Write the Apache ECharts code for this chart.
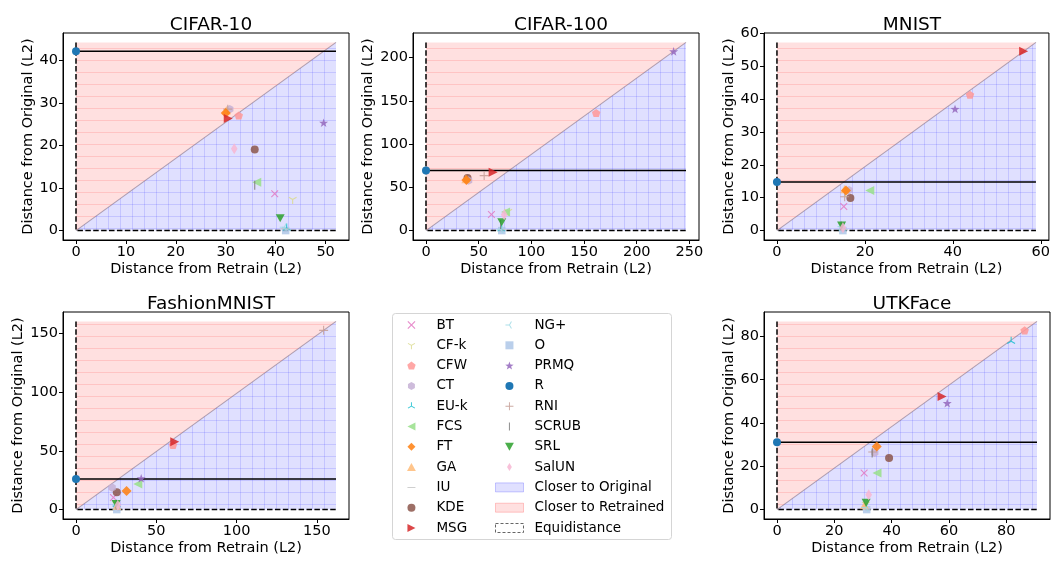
<!DOCTYPE html>
<html><head><meta charset="utf-8">
<script src="https://cdn.jsdelivr.net/npm/echarts@6/dist/echarts.min.js"></script>
<style>html,body{margin:0;padding:0;background:#fff}#c{width:1053px;height:563px}</style>
</head><body><div id="c"></div>
<script>
// ---------------- DATA ----------------
const methods = ['BT','CF-k','CFW','CT','EU-k','FCS','FT','GA','IU','KDE','MSG','NG+','O','PRMQ','R','RNI','SCRUB','SRL','SalUN'];
const datasets = ['CIFAR-10','CIFAR-100','MNIST','FashionMNIST','UTKFace'];

//                  BT    CF-k  CFW   CT    EU-k  FCS   FT    GA    IU    KDE   MSG   NG+   O     PRMQ  R    RNI   SCRUB SRL   SalUN
const cifar10X  = [39.8, 43.4, 32.6, 30.8, 42.2, 36.2, 30.0, 30.1, 41.9, 35.8, 30.5, 41.7, 42.0, 49.6, 0,   30.4, 35.8, 40.9, 31.7];
const cifar10Y  = [8.7,  7.3,  27.1, 28.6, 0.6,  11.4, 27.7, 28.3, 0.4,  19.1, 26.4, 0.8,  0.0,  25.4, 42.2,28.6, 10.7, 2.9,  19.3];

const cifar100X = [62.1, 78.0, 161.5,40.4, 71.5, 75.5, 38.3, 37.8, 72.0, 39.4, 63.7, 71.0, 71.9, 235.0,0,   55.2, 70.8, 71.9, 74.2];
const cifar100Y = [18.5, 22.0, 136.0,57.8, 2.0,  21.5, 58.6, 59.5, 1.0,  60.9, 67.4, 1.5,  0.0,  207.3,69.6,63.6, 7.0,  9.6,  18.3];

const mnistX    = [15.2, 15.6, 43.9, 16.4, 14.9, 21.1, 15.7, 15.4, 15.1, 16.7, 56.1, 14.8, 15.0, 40.5, 0,   15.4, 14.6, 14.7, 15.0];
const mnistY    = [7.3,  11.5, 41.3, 12.3, 0.8,  12.2, 12.2, 12.6, 0.3,  9.9,  54.5, 1.2,  0.0,  37.0, 14.8,10.3, 1.4,  1.5,  0.9];

const fashionX  = [23.3, 25.0, 60.4, 22.5, 25.3, 38.5, 31.5, 25.5, 25.4, 25.4, 61.5, 25.2, 25.4, 40.6, 0,   154.2,25.0, 25.0, 26.0];
const fashionY  = [10.2, 5.0,  54.9, 18.7, 4.5,  21.8, 15.9, 3.0,  0.5,  14.7, 57.7, 4.0,  0.0,  26.6, 26.0,152.3,4.0,  4.8,  3.7];

const utkX      = [30.4, 31.0, 86.4, 34.1, 81.7, 34.9, 34.8, 30.5, 31.3, 39.1, 57.6, 31.0, 31.3, 59.4, 0,   33.4, 33.2, 31.1, 32.0];
const utkY      = [16.9, 2.5,  82.8, 26.3, 77.8, 16.9, 29.2, 2.0,  0.3,  23.8, 52.3, 1.0,  0.0,  49.2, 31.1,26.6, 26.2, 3.1,  6.9];

const cifar10XTicks  = [0,10,20,30,40,50];
const cifar10YTicks  = [0,10,20,30,40];
const cifar100XTicks = [0,50,100,150,200,250];
const cifar100YTicks = [0,50,100,150,200];
const mnistXTicks    = [0,20,40,60];
const mnistYTicks    = [0,10,20,30,40,50,60];
const fashionXTicks  = [0,50,100,150];
const fashionYTicks  = [0,50,100,150];
const utkXTicks      = [0,20,40,60,80];
const utkYTicks      = [0,20,40,60,80];

const patchNames = ['Closer to Original','Closer to Retrained','Equidistance'];
const xAxisTitle = 'Distance from Retrain (L2)';
const yAxisTitle = 'Distance from Original (L2)';

// ---------------- LAYOUT / STYLE ----------------
const FONT = 'DejaVu Sans';
const panelData = [
  {x: cifar10X,  y: cifar10Y,  xt: cifar10XTicks,  yt: cifar10YTicks},
  {x: cifar100X, y: cifar100Y, xt: cifar100XTicks, yt: cifar100YTicks},
  {x: mnistX,    y: mnistY,    xt: mnistXTicks,    yt: mnistYTicks},
  {x: fashionX,  y: fashionY,  xt: fashionXTicks,  yt: fashionYTicks},
  {x: utkX,      y: utkY,      xt: utkXTicks,      yt: utkYTicks}
];
const gridLayout = [
  {left: 63,  top: 33,  yGap: 27},
  {left: 413, top: 33,  yGap: 37},
  {left: 764, top: 33,  yGap: 27},
  {left: 63,  top: 312, yGap: 37},
  {left: 764, top: 312, yGap: 27}
];
const GW = 286, GH = 207;

// tiny corner specks keep a square bounding box for thin symbols
const SQ = 'M0,0 L0.01,0 L0,0.01 Z M10,10 L9.99,10 L10,9.99 Z ';
function spokes(pts){
  const w = 0.6; let d = SQ;
  pts.forEach(p => {
    const dx = p[0]-5, dy = p[1]-5, L = Math.hypot(dx,dy);
    const nx = -dy/L*w, ny = dx/L*w;
    d += `M${(5+nx).toFixed(2)},${(5+ny).toFixed(2)} L${(p[0]+nx).toFixed(2)},${(p[1]+ny).toFixed(2)} L${(p[0]-nx).toFixed(2)},${(p[1]-ny).toFixed(2)} L${(5-nx).toFixed(2)},${(5-ny).toFixed(2)} Z `;
  });
  return 'path://' + d;
}
const SYM = {
  x: 'path://M1,0 L5,4 L9,0 L10,1 L6,5 L10,9 L9,10 L5,6 L1,10 L0,9 L4,5 L0,1 Z',
  triDown: spokes([[5,10],[0.67,2.5],[9.33,2.5]]),
  triUp: spokes([[5,0],[0.67,7.5],[9.33,7.5]]),
  triLeft: spokes([[0,5],[7.5,0.67],[7.5,9.33]]),
  pent: 'path://M5,0 L9.76,3.45 L7.94,9.05 L2.06,9.05 L0.24,3.45 Z',
  hex: 'path://M5,0 L9.33,2.5 L9.33,7.5 L5,10 L0.67,7.5 L0.67,2.5 Z',
  left: 'path://M0,5 L10,0 L10,10 Z',
  right: 'path://M10,5 L0,0 L0,10 Z',
  up: 'path://M5,0 L10,9 L0,9 Z',
  down: 'path://M0,0 L10,0 L5,9 Z',
  dia: 'path://M5,0 L10,5 L5,10 L0,5 Z',
  thinDia: 'path://' + SQ + 'M5,0 L8,5 L5,10 L2,5 Z',
  square: 'path://M0,0 H10 V10 H0 Z',
  hbar: 'path://' + SQ + 'M0,4.35 H10 V5.65 H0 Z',
  vbar: 'path://' + SQ + 'M4.35,0 H5.65 V10 H4.35 Z',
  plus: 'path://M4.4,0 H5.6 V4.4 H10 V5.6 H5.6 V10 H4.4 V5.6 H0 V4.4 H4.4 Z',
  star: 'path://M5,0 L6.18,3.38 L9.76,3.45 L6.9,5.62 L7.94,9.05 L5,7 L2.06,9.05 L3.1,5.62 L0.24,3.45 L3.82,3.38 Z'
};
const methodStyle = {
  'BT':   {c:'#e377c2', s:SYM.x,       sz:7.5, z:7},
  'CF-k': {c:'#dbdb8d', s:SYM.triDown, sz:9,   z:8},
  'CFW':  {c:'#ff9896', s:SYM.pent,    sz:8.5, z:7},
  'CT':   {c:'#c5b0d5', s:SYM.hex,     sz:8.5, z:8},
  'EU-k': {c:'#17becf', s:SYM.triUp,   sz:9,   z:8},
  'FCS':  {c:'#98df8a', s:SYM.left,    sz:9,   z:8},
  'FT':   {c:'#ff7f0e', s:SYM.dia,     sz:10,  z:9},
  'GA':   {c:'#ffbb78', s:SYM.up,      sz:9,   z:8},
  'IU':   {c:'#c7c7c7', s:SYM.hbar,    sz:9,   z:8},
  'KDE':  {c:'#8c564b', s:'circle',    sz:8,   z:7},
  'MSG':  {c:'#d62728', s:SYM.right,   sz:9,   z:9},
  'NG+':  {c:'#9edae5', s:SYM.triLeft, sz:9,   z:8},
  'O':    {c:'#aec7e8', s:SYM.square,  sz:7.5, z:7},
  'PRMQ': {c:'#9467bd', s:SYM.star,    sz:9,   z:8},
  'R':    {c:'#1f77b4', s:'circle',    sz:8,   z:7},
  'RNI':  {c:'#c49c94', s:SYM.plus,    sz:9,   z:8},
  'SCRUB':{c:'#7f7f7f', s:SYM.vbar,    sz:9,   z:8},
  'SRL':  {c:'#2ca02c', s:SYM.down,    sz:9,   z:8},
  'SalUN':{c:'#f7b6d2', s:SYM.thinDia, sz:11,  z:8}
};

// ---------------- BUILD ----------------
function regionRender(kind){
  return function(params, api){
    const a = api.coord([0,0]);
    const b = api.coord([api.value(0), api.value(1)]);
    const x0=a[0], y0=a[1], x1=b[0], y1=b[1];
    const fillC = kind==='pink' ? 'rgba(255,0,0,0.12)' : 'rgba(0,0,255,0.12)';
    const lineC = kind==='pink' ? 'rgba(255,0,0,0.12)' : 'rgba(0,0,255,0.12)';
    const pts = kind==='pink' ? [[x0,y0],[x0,y1],[x1,y1]] : [[x0,y0],[x1,y0],[x1,y1]];
    const children = [{type:'polygon', shape:{points:pts}, style:{fill:fillC, stroke:null}}];
    const step = 12;
    const diagX = y => x0 + (y0-y)/(y0-y1)*(x1-x0);
    const diagY = x => y0 - (x-x0)/(x1-x0)*(y0-y1);
    const ln = (ax,ay,bx,by) => ({type:'line', shape:{x1:ax,y1:ay,x2:bx,y2:by}, style:{stroke:lineC, lineWidth:1}});
    for (let y = Math.ceil(y1/step)*step + 0.5; y < y0; y += step){
      const xd = diagX(y);
      if (kind==='pink') children.push(ln(x0, y, xd, y)); else children.push(ln(xd, y, x1, y));
    }
    if (kind==='blue'){
      for (let x = Math.ceil(x0/step)*step + 0.5; x < x1; x += step){
        children.push(ln(x, diagY(x), x, y0));
      }
    }
    return {type:'group', children};
  };
}

const grids=[], xAxes=[], yAxes=[], titles=[], series=[];
panelData.forEach((p, i) => {
  const L = gridLayout[i];
  const xEnd = Math.max(...p.x)*1.05, yEnd = Math.max(...p.y)*1.05;
  const rY = p.y[methods.indexOf('R')];
  grids.push({left:L.left, top:L.top, width:GW, height:GH, show:true, borderColor:'#000', borderWidth:1, backgroundColor:'transparent'});
  titles.push({text:datasets[i], left:L.left+GW/2, top:L.top-22, textAlign:'center',
    textStyle:{fontFamily:FONT, fontSize:18.5, fontWeight:'normal', color:'#000'}});
  const axCommon = {type:'value', gridIndex:i, nameLocation:'middle',
    nameTextStyle:{fontFamily:FONT, fontSize:14.5, color:'#000'},
    axisLine:{show:true, onZero:false, lineStyle:{color:'#000', width:1}},
    splitLine:{show:false}};
  xAxes.push(Object.assign({}, axCommon, {min:-0.05*xEnd, max:1.05*xEnd, name:xAxisTitle, nameGap:22,
    axisTick:{show:true, length:4, customValues:p.xt, lineStyle:{color:'#000'}},
    axisLabel:{customValues:p.xt, fontFamily:FONT, fontSize:14.5, color:'#000', margin:5}}));
  yAxes.push(Object.assign({}, axCommon, {min:-0.05*yEnd, max:1.05*yEnd, name:yAxisTitle, nameGap:L.yGap,
    axisTick:{show:true, length:4, customValues:p.yt, lineStyle:{color:'#000'}},
    axisLabel:{customValues:p.yt, fontFamily:FONT, fontSize:14.5, color:'#000', margin:5}}));

  series.push({type:'custom', name:'Closer to Retrained', xAxisIndex:i, yAxisIndex:i, silent:true, z:1,
    renderItem:regionRender('pink'), data:[[xEnd, yEnd]], encode:{x:0, y:1}, itemStyle:{color:'rgba(255,0,0,0.12)'}});
  series.push({type:'custom', name:'Closer to Original', xAxisIndex:i, yAxisIndex:i, silent:true, z:1,
    renderItem:regionRender('blue'), data:[[xEnd, yEnd]], encode:{x:0, y:1}, itemStyle:{color:'rgba(0,0,255,0.12)'}});
  series.push({type:'line', name:'Equidistance', xAxisIndex:i, yAxisIndex:i, silent:true, z:2, symbol:'none',
    data:[[0,0],[xEnd,yEnd]], lineStyle:{color:'rgba(130,110,130,0.6)', width:1.1}, itemStyle:{color:'#888'}});
  series.push({type:'line', name:'_bounds', xAxisIndex:i, yAxisIndex:i, silent:true, z:3, symbol:'none',
    data:[[0,yEnd],[0,0],[xEnd,0]], lineStyle:{color:'#000', width:1.5, type:[5.5,2.4]}});
  series.push({type:'line', name:'_rline', xAxisIndex:i, yAxisIndex:i, silent:true, z:3, symbol:'none',
    data:[[0,rY],[xEnd,rY]], lineStyle:{color:'#000', width:1.5}});
  methods.forEach((m, k) => {
    const st = methodStyle[m];
    series.push({type:'scatter', name:m, xAxisIndex:i, yAxisIndex:i, z:st.z + (m==='R'?3:0),
      symbol:st.s, symbolSize:st.sz, symbolKeepAspect:true, silent:true,
      itemStyle:{color:st.c, opacity: m==='R' ? 1 : 0.85},
      data:[[p.x[k], p.y[k]]]});
  });
});

const ROW = 20.3, LTOP = 318;
const legendText = {fontFamily:FONT, fontSize:13.5, color:'#000', lineHeight:14};
const legends = [
  {data:methods.slice(0,11), left:407, top:LTOP, orient:'vertical', itemWidth:40, itemHeight:8, itemGap:ROW-14,
    textStyle:legendText, selectedMode:false, padding:0},
  {data:methods.slice(11), left:505, top:LTOP, orient:'vertical', itemWidth:40, itemHeight:8, itemGap:ROW-14,
    textStyle:legendText, selectedMode:false, padding:0},
  {data:[
     {name:patchNames[0], icon:'rect', itemStyle:{color:'rgba(0,0,255,0.12)', borderColor:'rgba(0,0,255,0.2)', borderWidth:1}},
     {name:patchNames[1], icon:'rect', itemStyle:{color:'rgba(255,0,0,0.12)', borderColor:'rgba(255,0,0,0.2)', borderWidth:1}},
     {name:patchNames[2], icon:'rect', itemStyle:{color:'#fff', borderColor:'#666', borderWidth:1, borderType:[3,2]}}
   ], left:495, top:LTOP + 8*ROW, orient:'vertical', itemWidth:28, itemHeight:9, itemGap:ROW-14,
    textStyle:Object.assign({}, legendText, {padding:[0,0,0,6]}), selectedMode:false, padding:0}
];

const chart = echarts.init(document.getElementById('c'), null, {renderer:'canvas'});
chart.setOption({
  animation:false,
  backgroundColor:'#fff',
  title:titles,
  grid:grids, xAxis:xAxes, yAxis:yAxes,
  legend:legends,
  graphic:[{type:'rect', shape:{x:392.5, y:313.5, width:279, height:226, r:3}, style:{fill:'none', stroke:'#d5d5d5', lineWidth:1}, z:-1}],
  series:series
});
</script></body></html>
